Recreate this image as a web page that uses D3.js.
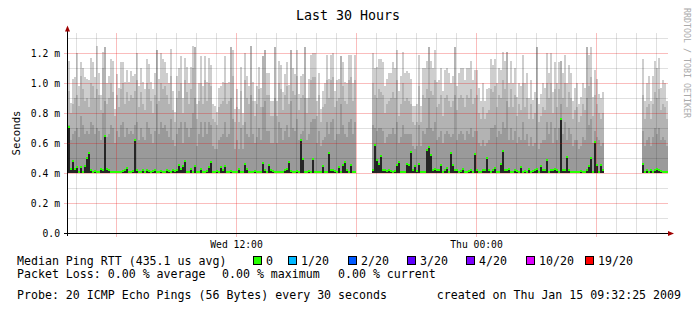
<!DOCTYPE html>
<html>
<head>
<meta charset="utf-8">
<script src="https://cdn.jsdelivr.net/npm/d3@7"></script>
<style>
    body { margin: 0; background: #fff; }
    svg { display: block; font-family: "DejaVu Sans Mono", monospace; }
</style>
</head>
<body>
<div id="chart"></div>
<script>
const width = 697;
const height = 313;

// time frame of the graph: 30 hours, one sample every 6 minutes
const startTime = new Date(2009, 0, 14, 3, 36);
const endTime = new Date(2009, 0, 15, 9, 36);
const stepMinutes = 6;

// RTT values in milliseconds (axis shows "m" = milli seconds), null = no data
const rttMin = 0.40;

const rttMax = [
    1.15,0.87,1.03,1.04,1.20,0.98,1.14,1.10,1.04,1.03,
    1.02,1.17,1.14,1.04,1.25,1.07,0.92,1.21,1.24,1.00,
    1.05,1.16,1.15,0.83,1.06,0.97,1.14,1.14,1.01,1.09,
    1.01,1.08,1.05,1.06,1.20,0.98,1.10,1.01,0.96,1.16,
    1.13,1.01,0.96,1.07,1.22,1.03,1.20,1.16,1.14,1.07,
    1.00,1.23,0.95,0.81,1.05,1.10,1.18,0.90,1.17,1.11,
    1.00,1.11,1.25,1.24,0.86,1.00,1.18,0.98,1.18,1.01,
    1.17,1.12,0.86,0.85,0.81,0.97,0.98,1.01,1.18,1.00,
    1.01,1.24,1.22,0.83,0.96,0.83,1.11,0.80,1.20,1.05,
    0.98,1.25,1.01,0.88,0.98,1.11,0.97,1.18,1.22,1.07,
    1.07,0.88,0.88,1.24,0.88,1.15,1.12,0.94,1.06,1.14,
    0.99,1.22,1.10,1.06,1.22,0.93,1.05,1.06,1.24,0.90,
    1.03,1.19,1.20,1.20,0.88,1.07,0.83,0.95,1.00,1.19,
    1.03,1.19,1.20,0.95,1.02,1.03,1.18,1.14,1.01,1.00,
    1.19,1.19,1.00,1.19,
    null,null,null,null,null,null,null,null,
    1.20,1.10,1.11,1.16,1.16,1.14,0.98,1.03,1.07,1.07,
    1.14,1.10,1.22,0.95,1.05,1.21,1.07,1.08,1.07,1.03,
    0.85,0.85,0.86,1.19,0.85,1.10,1.10,1.15,1.24,1.15,
    1.10,1.22,1.01,1.02,1.10,0.95,1.09,1.10,1.07,1.00,
    1.05,1.24,0.98,1.07,1.10,1.10,1.02,1.10,1.10,1.15,
    1.02,1.09,1.09,0.97,0.88,1.00,0.88,0.96,0.97,1.16,
    1.12,1.16,1.00,1.10,1.09,1.21,1.15,1.21,1.00,1.15,
    1.00,1.10,0.91,1.00,0.98,1.19,1.00,1.07,0.90,1.02,
    0.89,0.94,1.24,0.86,0.93,1.00,0.97,1.20,1.07,1.20,
    0.94,1.14,1.00,1.14,1.15,1.07,1.19,1.00,1.12,1.07,
    0.88,0.97,1.00,0.86,0.91,1.00,0.97,1.24,1.19,1.24,
    0.91,1.09,1.03,0.93,0.90,0.94,
    null,null,null,null,null,null,null,null,null,null,
    null,null,null,null,null,null,null,null,null,
    1.16,0.88,1.00,1.05,0.88,1.05,1.15,1.10,1.17,0.97,
    1.02,1.00,0.88
];

const rttUpper = [
    0.95,0.80,0.86,0.90,0.92,0.85,1.05,0.96,0.88,0.90,
    0.84,1.00,0.98,0.90,0.96,0.92,0.82,1.10,1.24,0.86,
    0.90,1.00,0.94,0.78,0.92,0.84,0.96,1.00,0.86,0.94,
    0.88,0.92,0.90,0.95,1.02,0.84,0.94,0.86,0.82,1.00,
    0.96,0.88,0.80,0.92,1.22,0.88,1.00,0.96,0.98,0.92,
    0.86,1.05,0.82,0.74,0.90,0.95,1.00,0.80,1.02,0.94,
    0.86,0.96,1.10,1.24,0.76,0.88,1.00,0.86,1.02,0.88,
    1.00,0.98,0.76,0.74,0.72,0.84,0.86,0.88,1.00,0.86,
    0.88,1.24,1.05,0.74,0.84,0.74,0.95,0.72,1.02,0.90,
    0.86,1.25,0.88,0.78,0.86,0.96,0.84,1.18,1.22,0.92,
    0.92,0.78,0.78,1.24,0.78,1.00,0.96,0.82,0.92,0.98,
    0.86,1.22,0.95,0.92,1.05,0.82,0.90,0.92,1.24,0.80,
    0.90,1.02,1.04,1.04,0.78,0.92,0.74,0.84,0.86,1.02,
    0.90,1.02,1.04,0.84,0.88,0.90,1.18,0.98,0.88,0.86,
    1.02,1.04,0.88,1.02,
    null,null,null,null,null,null,null,null,
    1.00,0.92,0.90,0.96,0.94,0.92,0.80,0.86,0.88,0.90,
    0.94,0.90,1.02,0.78,0.86,1.00,0.88,0.90,0.88,0.86,
    0.74,0.72,0.74,0.98,0.74,0.92,0.90,0.96,1.24,0.95,
    0.92,1.02,0.84,0.86,0.92,0.78,0.90,0.92,0.88,0.84,
    0.88,1.24,0.82,0.90,0.92,0.90,0.84,0.92,0.90,0.96,
    0.86,0.90,0.92,0.80,0.76,0.84,0.76,0.80,0.82,0.96,
    0.94,0.98,0.84,0.92,0.90,1.02,0.96,1.21,0.84,0.96,
    0.84,0.92,0.78,0.86,0.82,1.00,0.84,0.90,0.76,0.86,
    0.76,0.80,1.24,0.74,0.78,0.84,0.82,1.00,0.90,1.00,
    0.80,0.96,0.84,0.96,1.15,0.90,1.00,0.84,0.94,0.90,
    0.76,0.82,0.84,0.74,0.78,0.86,0.82,1.24,0.98,1.04,
    0.78,0.92,0.86,0.80,0.76,0.80,
    null,null,null,null,null,null,null,null,null,null,
    null,null,null,null,null,null,null,null,null,
    0.92,0.76,0.84,0.86,0.76,0.86,0.94,0.90,0.96,0.82,
    0.86,0.84,0.76
];

const rttMid = [
    0.72,0.62,0.66,0.68,0.70,0.64,0.78,0.72,0.66,0.68,
    0.66,0.74,0.72,0.66,0.70,0.68,0.62,0.80,0.88,0.64,
    0.66,0.72,0.70,0.60,0.68,0.64,0.72,0.74,0.64,0.70,
    0.66,0.68,0.66,0.72,0.74,0.62,0.70,0.64,0.62,0.74,
    0.70,0.66,0.60,0.68,0.86,0.66,0.74,0.70,0.72,0.68,
    0.64,0.76,0.62,0.58,0.66,0.70,0.74,0.60,0.74,0.70,
    0.64,0.70,0.80,0.90,0.58,0.66,0.74,0.64,0.74,0.66,
    0.74,0.72,0.58,0.56,0.56,0.62,0.64,0.66,0.74,0.64,
    0.66,0.90,0.76,0.56,0.62,0.56,0.70,0.56,0.74,0.66,
    0.64,0.92,0.66,0.60,0.64,0.70,0.62,0.84,0.88,0.68,
    0.68,0.60,0.60,0.90,0.60,0.74,0.70,0.62,0.68,0.72,
    0.64,0.88,0.70,0.68,0.76,0.62,0.66,0.68,0.90,0.62,
    0.66,0.74,0.76,0.76,0.60,0.68,0.58,0.62,0.64,0.74,
    0.66,0.74,0.76,0.62,0.66,0.66,0.86,0.72,0.66,0.64,
    0.74,0.76,0.66,0.74,
    null,null,null,null,null,null,null,null,
    0.72,0.70,0.68,0.70,0.70,0.68,0.60,0.64,0.66,0.66,
    0.70,0.66,0.74,0.60,0.64,0.72,0.66,0.66,0.66,0.66,
    0.58,0.56,0.58,0.72,0.58,0.68,0.66,0.70,0.90,0.70,
    0.68,0.74,0.62,0.64,0.68,0.60,0.66,0.68,0.66,0.64,
    0.66,0.92,0.62,0.66,0.68,0.66,0.62,0.68,0.66,0.70,
    0.64,0.68,0.68,0.60,0.58,0.62,0.58,0.60,0.62,0.70,
    0.70,0.72,0.64,0.68,0.66,0.74,0.70,0.88,0.62,0.70,
    0.62,0.68,0.60,0.64,0.62,0.74,0.62,0.66,0.58,0.64,
    0.58,0.60,0.90,0.56,0.60,0.62,0.62,0.74,0.66,0.74,
    0.60,0.70,0.62,0.70,0.86,0.66,0.74,0.62,0.70,0.66,
    0.58,0.62,0.62,0.56,0.58,0.64,0.62,0.90,0.72,0.76,
    0.60,0.68,0.64,0.62,0.58,0.60,
    null,null,null,null,null,null,null,null,null,null,
    null,null,null,null,null,null,null,null,null,
    0.68,0.58,0.62,0.64,0.58,0.64,0.70,0.66,0.70,0.62,
    0.64,0.62,0.58
];

const rttMedian = [
    0.705,0.429,0.480,0.429,0.440,0.407,0.440,0.407,0.444,0.502,
    0.535,0.418,0.410,0.413,0.407,0.407,0.429,0.420,0.644,0.429,
    0.418,0.410,0.407,0.407,0.405,0.407,0.407,0.413,0.420,0.436,
    0.407,0.410,0.413,0.620,0.418,0.407,0.407,0.418,0.410,0.418,
    0.413,0.407,0.413,0.418,0.407,0.410,0.413,0.407,0.410,0.418,
    0.413,0.410,0.420,0.413,0.418,0.455,0.430,0.445,0.478,0.410,
    0.410,0.430,0.410,0.445,0.410,0.410,0.425,0.410,0.410,0.415,
    0.440,0.473,0.410,0.410,0.415,0.410,0.440,0.420,0.445,0.410,
    0.410,0.415,0.410,0.410,0.410,0.425,0.410,0.410,0.460,0.430,
    0.410,0.410,0.410,0.415,0.410,0.410,0.410,0.465,0.420,0.410,
    0.450,0.420,0.415,0.410,0.410,0.410,0.410,0.410,0.420,0.430,
    0.473,0.415,0.410,0.410,0.415,0.410,0.620,0.495,0.410,0.410,
    0.415,0.410,0.495,0.410,0.410,0.410,0.410,0.445,0.410,0.410,
    0.533,0.420,0.420,0.415,0.410,0.440,0.410,0.450,0.473,0.420,
    0.410,0.450,0.410,0.410,
    null,null,null,null,null,null,null,null,
    0.420,0.585,0.490,0.462,0.513,0.420,0.418,0.413,0.418,0.413,
    0.410,0.413,0.451,0.473,0.407,0.407,0.410,0.462,0.451,0.540,
    0.420,0.444,0.413,0.458,0.407,0.410,0.407,0.551,0.573,0.518,
    0.418,0.429,0.418,0.420,0.451,0.410,0.418,0.433,0.410,0.533,
    0.451,0.418,0.420,0.410,0.413,0.429,0.410,0.410,0.413,0.418,
    0.410,0.529,0.418,0.410,0.407,0.418,0.420,0.502,0.420,0.407,
    0.418,0.436,0.407,0.410,0.458,0.547,0.420,0.418,0.429,0.410,
    0.407,0.420,0.413,0.410,0.440,0.407,0.413,0.410,0.424,0.407,
    0.413,0.420,0.424,0.410,0.444,0.418,0.420,0.484,0.407,0.420,
    0.418,0.429,0.418,0.410,0.762,0.420,0.420,0.507,0.418,0.410,
    0.407,0.410,0.405,0.407,0.413,0.407,0.405,0.418,0.444,0.502,
    0.407,0.607,0.456,0.405,0.451,0.420,
    null,null,null,null,null,null,null,null,null,null,
    null,null,null,null,null,null,null,null,null,
    0.458,0.407,0.420,0.405,0.418,0.407,0.418,0.424,0.418,0.413,
    0.407,0.410,0.410
];

const yTicks = [0, 0.2, 0.4, 0.6, 0.8, 1.0, 1.2];
const lossLabels = ['0', '1/20', '2/20', '3/20', '4/20', '10/20', '19/20'];
const lossColors = ['#26ff00', '#00b8ff', '#0059ff', '#5e00ff', '#7e00ff', '#dd00ff', '#ff0000'];
const lossBoxX = [253, 288, 348, 407, 466, 526, 585];

const data = rttMax.map((v, i) => ({
    t: d3.timeMinute.offset(startTime, i * stepMinutes),
    max: v,
    upper: rttUpper[i],
    mid: rttMid[i],
    med: rttMedian[i]
}));
const present = data.filter(d => d.max != null);

const svg = d3.select('#chart').append('svg')
    .attr('width', width)
    .attr('height', height);

svg.append('rect')
    .attr('width', width)
    .attr('height', height)
    .attr('fill', '#fff');

const xScale = d3.scaleTime()
    .domain([startTime, endTime])
    .range([68, 668]);

const yScale = d3.scaleLinear()
    .domain([0, 4 / 3])
    .range([233, 33]);

const stepW = xScale(d3.timeMinute.offset(startTime, stepMinutes)) - xScale(startTime);
const base = yScale(rttMin);

// smoke: outer band light, inner bands darker, median spike darkest
const bands = [
    { key: 'max', color: '#cecece' },
    { key: 'upper', color: '#b3b3b3' },
    { key: 'mid', color: '#9a9a9a' },
    { key: 'med', color: '#262626' }
];

const plot = svg.append('g').attr('shape-rendering', 'crispEdges');

bands.forEach(b => {
    plot.append('g').selectAll('rect')
        .data(present)
        .join('rect')
        .attr('x', d => xScale(d.t))
        .attr('width', stepW)
        .attr('y', d => yScale(d[b.key]))
        .attr('height', d => base - yScale(d[b.key]))
        .attr('fill', b.color);
});

// grid on top of the smoke
const grid = svg.append('g').attr('shape-rendering', 'crispEdges');
const minorColor = 'rgba(0,0,0,0.12)';
const majorColor = 'rgba(235,0,0,0.26)';

const yMinor = d3.range(1, 14).map(i => i / 10);
grid.selectAll('.hgrid')
    .data(yMinor)
    .join('line')
    .attr('x1', d => (Math.round(d * 10) % 2 === 0 ? 64 : 68))
    .attr('x2', 668)
    .attr('y1', d => Math.round(yScale(d)) + 0.5)
    .attr('y2', d => Math.round(yScale(d)) + 0.5)
    .attr('stroke', d => (Math.round(d * 10) % 2 === 0 ? majorColor : minorColor));

const hours = d3.timeHour.range(d3.timeHour.ceil(startTime), endTime);
grid.selectAll('.vgrid')
    .data(hours)
    .join('line')
    .attr('x1', d => Math.round(xScale(d)) + 0.5)
    .attr('x2', d => Math.round(xScale(d)) + 0.5)
    .attr('y1', 33)
    .attr('y2', d => (d.getHours() % 6 === 0 ? 237 : 233))
    .attr('stroke', d => (d.getHours() % 6 === 0 ? majorColor : minorColor));

// median markers, coloured by packet loss (all 0 here)
svg.append('g').selectAll('rect')
    .data(present)
    .join('rect')
    .attr('x', d => xScale(d.t))
    .attr('width', stepW)
    .attr('y', d => Math.round(yScale(d.med)) - 1)
    .attr('height', 2)
    .attr('fill', lossColors[0])
    .attr('shape-rendering', 'crispEdges');

// axes
const axes = svg.append('g').attr('shape-rendering', 'crispEdges');
axes.append('line')
    .attr('x1', 64).attr('x2', 669)
    .attr('y1', 233.5).attr('y2', 233.5)
    .attr('stroke', '#000');
axes.append('line')
    .attr('x1', 67.5).attr('x2', 67.5)
    .attr('y1', 236).attr('y2', 30)
    .attr('stroke', '#000');
svg.append('path')
    .attr('d', 'M67.5,25.5 L65,31.5 L70,31.5 Z')
    .attr('fill', '#a00000');
svg.append('path')
    .attr('d', 'M674,233.5 L668,231 L668,236 Z')
    .attr('fill', '#a00000');

// y tick labels
svg.append('g').selectAll('text')
    .data(yTicks)
    .join('text')
    .attr('x', 60)
    .attr('y', d => Math.round(yScale(d)) + 4)
    .attr('text-anchor', 'end')
    .attr('font-size', '9.7px')
    .attr('fill', '#000')
    .text(d => (d === 0 ? '0.0' : d3.format('.1f')(d) + ' m'));

// x tick labels every 12 hours
const fmt = d3.timeFormat('%a %H:%M');
svg.append('g').selectAll('text')
    .data(d3.timeHour.every(12).range(startTime, endTime))
    .join('text')
    .attr('x', d => Math.round(xScale(d)) + 0.5)
    .attr('y', 248)
    .attr('text-anchor', 'middle')
    .attr('font-size', '9.7px')
    .text(fmt);

// title, vertical label, watermark
svg.append('text')
    .attr('x', 348)
    .attr('y', 20)
    .attr('text-anchor', 'middle')
    .attr('font-size', '13.3px')
    .text('Last 30 Hours');

svg.append('text')
    .attr('transform', 'translate(20,133) rotate(-90)')
    .attr('text-anchor', 'middle')
    .attr('font-size', '10.7px')
    .text('Seconds');

svg.append('text')
    .attr('transform', 'translate(683.5,8) rotate(90)')
    .attr('font-size', '8.3px')
    .attr('fill', '#aaa')
    .text('RRDTOOL / TOBI OETIKER');

// legend
const legend = svg.append('g').attr('font-size', '11.6px');
legend.append('text')
    .attr('x', 17).attr('y', 265)
    .text('Median Ping RTT (435.1 us avg)');

const items = legend.selectAll('.item')
    .data(lossLabels)
    .join('g')
    .attr('class', 'item');
items.append('rect')
    .attr('x', (d, i) => lossBoxX[i] + 0.5)
    .attr('y', 256.5)
    .attr('width', 8)
    .attr('height', 8)
    .attr('fill', (d, i) => lossColors[i])
    .attr('stroke', '#000')
    .attr('shape-rendering', 'crispEdges');
items.append('text')
    .attr('x', (d, i) => lossBoxX[i] + 13)
    .attr('y', 265)
    .text(d => d);

legend.append('text').attr('x', 17).attr('y', 278).text('Packet Loss: 0.00 % average');
legend.append('text').attr('x', 222).attr('y', 278).text('0.00 % maximum');
legend.append('text').attr('x', 338).attr('y', 278).text('0.00 % current');

legend.append('text').attr('x', 17).attr('y', 299)
    .text('Probe: 20 ICMP Echo Pings (56 Bytes) every 30 seconds');
legend.append('text').attr('x', 681).attr('y', 299)
    .attr('text-anchor', 'end')
    .text('created on Thu Jan 15 09:32:25 2009');
</script>
</body>
</html>
